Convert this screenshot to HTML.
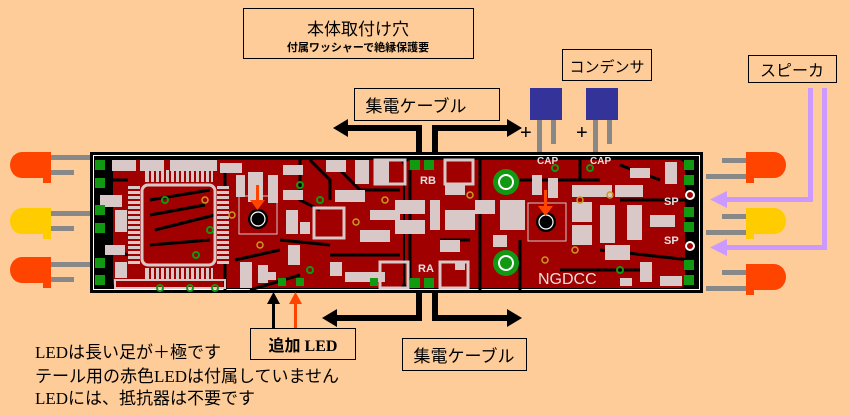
<!DOCTYPE html>
<html><head><meta charset="utf-8"><style>
html,body{margin:0;padding:0;background:#FECC99;}
svg{display:block}
text{font-family:"Liberation Sans","Noto Sans CJK JP",sans-serif;}
text.serif{font-family:"Liberation Serif","Noto Sans CJK JP",serif;}
</style></head><body>
<svg width="850" height="415" viewBox="0 0 850 415" xmlns="http://www.w3.org/2000/svg">
<rect width="850" height="415" fill="#FECC99"/>
<rect x="243.5" y="8.5" width="230" height="50" fill="none" stroke="#000"/>
<text x="358" y="35" font-size="17" text-anchor="middle">本体取付け穴</text>
<text x="358" y="51" font-size="11" font-weight="bold" text-anchor="middle">付属ワッシャーで絶縁保護要</text>
<rect x="562.5" y="49.5" width="89" height="31" fill="none" stroke="#000"/>
<text x="607" y="72" font-size="15" text-anchor="middle">コンデンサ</text>
<rect x="748.5" y="55.5" width="88" height="27" fill="none" stroke="#000"/>
<text x="792" y="76" font-size="16" text-anchor="middle">スピーカ</text>
<rect x="354.5" y="88.5" width="145" height="32" fill="none" stroke="#000"/>
<text x="416" y="112" font-size="17" text-anchor="middle">集電ケーブル</text>
<g fill="#000">
<rect x="416" y="125" width="6" height="28"/><rect x="432" y="125" width="6" height="28"/>
<rect x="345" y="125" width="77" height="6"/><rect x="432" y="125" width="78" height="6"/>
<polygon points="333,128 348,119 348,137"/><polygon points="522,128 507,119 507,137"/>
</g>
<rect x="530" y="88" width="32" height="32" fill="#333399"/>
<rect x="586" y="88" width="32" height="32" fill="#333399"/>
<g fill="#888"><rect x="537" y="120" width="5" height="32"/><rect x="551" y="120" width="5" height="24"/>
<rect x="593" y="120" width="5" height="32"/><rect x="607" y="120" width="5" height="24"/></g>
<text x="520" y="139" font-size="20">+</text><text x="576" y="139" font-size="20">+</text>
<g fill="#CC99FF">
<rect x="808" y="88" width="5" height="114"/><rect x="822" y="88" width="5" height="162"/>
<rect x="722" y="197" width="91" height="5"/><rect x="722" y="245" width="105" height="5"/>
<polygon points="710,199.5 727,191 727,208"/><polygon points="710,247.5 727,239 727,256"/>
</g>
<g>
<rect x="48" y="155" width="42" height="5" fill="#888"/><rect x="48" y="170" width="26" height="5" fill="#888"/>
<path d="M22,152 h28 v26 h-28 a12,13 0 0 1 0,-26z" fill="#FF4400"/><rect x="43" y="152" width="8" height="31" fill="#FF4400"/>
<rect x="48" y="211" width="42" height="5" fill="#888"/><rect x="48" y="226" width="26" height="5" fill="#888"/>
<path d="M22,208 h28 v26 h-28 a12,13 0 0 1 0,-26z" fill="#FFCC00"/><rect x="43" y="208" width="8" height="31" fill="#FFCC00"/>
<rect x="48" y="262" width="42" height="5" fill="#888"/><rect x="48" y="277" width="26" height="5" fill="#888"/>
<path d="M22,257 h28 v26 h-28 a12,13 0 0 1 0,-26z" fill="#FF4400"/><rect x="43" y="257" width="8" height="31" fill="#FF4400"/>
</g>
<g>
<rect x="722" y="158" width="26" height="5" fill="#888"/><rect x="706" y="174" width="42" height="5" fill="#888"/>
<path d="M748,152 h26 a12,13 0 0 1 0,26 h-26z" fill="#FF4400"/><rect x="746" y="152" width="8" height="31" fill="#FF4400"/>
<rect x="722" y="214" width="26" height="5" fill="#888"/><rect x="706" y="230" width="42" height="5" fill="#888"/>
<path d="M748,208 h26 a12,13 0 0 1 0,26 h-26z" fill="#FFCC00"/><rect x="746" y="208" width="8" height="31" fill="#FFCC00"/>
<rect x="722" y="270" width="26" height="5" fill="#888"/><rect x="706" y="286" width="42" height="5" fill="#888"/>
<path d="M748,264 h26 a12,13 0 0 1 0,26 h-26z" fill="#FF4400"/><rect x="746" y="264" width="8" height="31" fill="#FF4400"/>
</g>
<!-- board -->
<rect x="90" y="152" width="613" height="141" fill="#000"/>
<rect x="93.5" y="155.5" width="606" height="134" fill="none" stroke="#fff" stroke-width="1"/>
<g fill="#A00000">
<rect x="113" y="160" width="290" height="128" rx="6"/>
<rect x="405" y="160" width="280" height="128" rx="6"/>
</g>
<g stroke="#000" stroke-width="3" fill="none">
<path d="M150,200 L210,190 M150,215 L205,205 M155,230 L215,215 M150,245 L210,240"/>
<path d="M225,165 L225,290 M300,160 L300,200 L320,210 M340,170 L360,190 L400,190"/>
<path d="M410,170 L410,280 M480,160 L480,290 M520,180 L600,180 M620,200 L690,200 M600,250 L690,260"/>
<path d="M330,255 L400,255 M250,290 L300,275 M280,240 L330,245 M310,160 L330,180 L330,200"/>
<path d="M440,240 L470,240 M560,270 L640,270 M620,165 L660,180 M520,240 L520,290 M580,160 L580,180"/>
<path d="M113,180 L128,180 M113,250 L128,255 M235,260 L280,250"/>
</g>
<rect x="142" y="185" width="73" height="80" rx="6" fill="none" stroke="#D8C8C8" stroke-width="3"/>
<g fill="#D8C8C8">
<rect x="128" y="186" width="12" height="78" />
<rect x="217" y="186" width="12" height="78" />
<rect x="145" y="170" width="68" height="12"/>
<rect x="145" y="268" width="68" height="12"/>
</g>
<g stroke="#A00000" stroke-width="2">
<path d="M128,190 H140 M128,195 H140 M128,200 H140 M128,205 H140 M128,210 H140 M128,215 H140 M128,220 H140 M128,225 H140 M128,230 H140 M128,235 H140 M128,240 H140 M128,245 H140 M128,250 H140 M128,255 H140 M128,260 H140"/>
<path d="M217,190 H229 M217,195 H229 M217,200 H229 M217,205 H229 M217,210 H229 M217,215 H229 M217,220 H229 M217,225 H229 M217,230 H229 M217,235 H229 M217,240 H229 M217,245 H229 M217,250 H229 M217,255 H229 M217,260 H229"/>
<path d="M150,170 V182 M155,170 V182 M160,170 V182 M165,170 V182 M170,170 V182 M175,170 V182 M180,170 V182 M185,170 V182 M190,170 V182 M195,170 V182 M200,170 V182 M205,170 V182 M210,170 V182"/>
<path d="M150,268 V280 M155,268 V280 M160,268 V280 M165,268 V280 M170,268 V280 M175,268 V280 M180,268 V280 M185,268 V280 M190,268 V280 M195,268 V280 M200,268 V280 M205,268 V280 M210,268 V280"/>
</g>
<g fill="#D8C8C8">
<rect x="112" y="160" width="24" height="11"/><rect x="140" y="160" width="24" height="11"/><rect x="170" y="160" width="24" height="11"/><rect x="193" y="160" width="24" height="11"/>
<rect x="220" y="163" width="22" height="10"/><rect x="100" y="195" width="22" height="12"/><rect x="115" y="210" width="12" height="22"/>
<rect x="105" y="245" width="20" height="10"/><rect x="115" y="262" width="12" height="16"/><rect x="115" y="280" width="110" height="8" fill="none" stroke="#D8C8C8" stroke-width="2"/>
<rect x="236" y="175" width="9" height="22"/><rect x="248" y="172" width="15" height="30"/>
<rect x="240" y="262" width="12" height="26"/><rect x="258" y="265" width="10" height="18"/>
<rect x="268" y="175" width="10" height="28"/><rect x="283" y="165" width="20" height="10"/><rect x="283" y="190" width="20" height="10"/>
<rect x="286" y="210" width="12" height="24"/><rect x="288" y="245" width="12" height="20"/>
<rect x="326" y="160" width="20" height="12"/><rect x="355" y="160" width="14" height="24"/><rect x="375" y="160" width="14" height="24"/>
<rect x="335" y="190" width="30" height="12"/><rect x="370" y="210" width="30" height="10"/><rect x="360" y="230" width="30" height="12"/>
<rect x="330" y="262" width="12" height="14"/><rect x="345" y="272" width="40" height="10"/>
<rect x="395" y="200" width="30" height="14"/><rect x="395" y="220" width="30" height="14"/>
<rect x="445" y="185" width="20" height="10"/><rect x="445" y="210" width="30" height="20"/><rect x="440" y="240" width="20" height="12"/>
<rect x="475" y="200" width="20" height="14"/><rect x="500" y="200" width="25" height="30"/><rect x="493" y="235" width="14" height="12"/>
<rect x="532" y="175" width="10" height="20"/><rect x="548" y="178" width="10" height="20"/>
<rect x="572" y="185" width="40" height="12"/><rect x="615" y="185" width="28" height="12"/>
<rect x="572" y="202" width="20" height="20"/><rect x="572" y="225" width="20" height="20"/><rect x="600" y="205" width="15" height="38"/>
<rect x="627" y="205" width="15" height="35"/><rect x="650" y="215" width="25" height="12"/><rect x="605" y="245" width="25" height="15"/>
<rect x="640" y="262" width="12" height="20"/><rect x="660" y="276" width="22" height="10"/>
<rect x="665" y="162" width="12" height="22"/><rect x="630" y="168" width="20" height="10"/>
<rect x="300" y="222" width="10" height="12"/><rect x="260" y="272" width="16" height="8"/><rect x="430" y="200" width="10" height="30"/>
<rect x="455" y="262" width="10" height="8"/><rect x="620" y="278" width="12" height="8"/>
<rect x="380" y="262" width="28" height="26" fill="none" stroke="#D8C8C8" stroke-width="3"/>
<rect x="440" y="262" width="28" height="26" fill="none" stroke="#D8C8C8" stroke-width="3"/>
<rect x="375" y="160" width="30" height="24" fill="none" stroke="#D8C8C8" stroke-width="3"/>
<rect x="445" y="160" width="28" height="24" fill="none" stroke="#D8C8C8" stroke-width="3"/>
<rect x="314" y="208" width="30" height="30" fill="none" stroke="#D8C8C8" stroke-width="3"/>
<rect x="239" y="196" width="38" height="38" fill="none" stroke="#D8C8C8" stroke-width="1"/>
<rect x="528" y="203" width="38" height="38" fill="none" stroke="#D8C8C8" stroke-width="1"/>
</g>
<circle cx="258" cy="219" r="10" fill="#000"/><circle cx="258" cy="219" r="7" fill="none" stroke="#fff" stroke-width="1.2"/>
<circle cx="546" cy="222" r="10" fill="#000"/><circle cx="546" cy="222" r="7" fill="none" stroke="#fff" stroke-width="1.2"/>
<g fill="#FF4400"><rect x="256" y="185" width="3" height="18"/><polygon points="250,200 265,200 257.5,210"/>
<rect x="544" y="190" width="3" height="18"/><polygon points="538,206 553,206 545.5,216"/></g>
<circle cx="506" cy="182" r="13" fill="#119911"/><circle cx="506" cy="182" r="8" fill="#fff"/><circle cx="506" cy="182" r="6" fill="#119911"/>
<circle cx="506" cy="263" r="13" fill="#119911"/><circle cx="506" cy="263" r="8" fill="#fff"/><circle cx="506" cy="263" r="6" fill="#119911"/>
<g fill="#119911">
<rect x="95" y="160" width="10" height="10"/><rect x="95" y="178" width="10" height="10"/><rect x="95" y="205" width="10" height="10"/>
<rect x="95" y="223" width="10" height="10"/><rect x="95" y="258" width="10" height="10"/><rect x="95" y="275" width="10" height="10"/>
<rect x="684" y="160" width="10" height="10"/><rect x="684" y="175" width="10" height="10"/><rect x="684" y="207" width="10" height="10"/>
<rect x="684" y="222" width="10" height="10"/><rect x="684" y="260" width="10" height="10"/><rect x="684" y="275" width="10" height="10"/>
<rect x="410" y="160" width="10" height="10"/><rect x="424" y="160" width="10" height="10"/>
<rect x="410" y="278" width="10" height="10"/><rect x="424" y="278" width="10" height="10"/>
<rect x="370" y="278" width="8" height="8"/><rect x="296" y="278" width="8" height="8"/><rect x="278" y="278" width="8" height="8"/>
</g>
<g fill="none" stroke="#119911" stroke-width="2">
<circle cx="165" cy="200" r="3"/><circle cx="196" cy="255" r="3"/><circle cx="210" cy="230" r="3"/><circle cx="300" cy="185" r="3"/>
<circle cx="320" cy="200" r="3"/><circle cx="160" cy="288" r="3"/><circle cx="190" cy="288" r="3"/><circle cx="215" cy="288" r="3"/>
<circle cx="555" cy="168" r="3"/><circle cx="590" cy="168" r="3"/><circle cx="620" cy="270" r="3"/><circle cx="310" cy="270" r="3"/>
</g>
<g fill="none" stroke="#CC9922" stroke-width="1.5">
<circle cx="205" cy="200" r="3"/><circle cx="260" cy="245" r="3"/><circle cx="232" cy="215" r="3"/><circle cx="356" cy="222" r="3"/>
<circle cx="385" cy="200" r="3"/><circle cx="580" cy="200" r="3"/><circle cx="610" cy="195" r="3"/><circle cx="545" cy="260" r="3"/>
<circle cx="575" cy="250" r="3"/><circle cx="470" cy="195" r="3"/>
</g>
<circle cx="690" cy="195" r="4" fill="#A00000" stroke="#fff" stroke-width="2"/>
<circle cx="690" cy="246" r="4" fill="#A00000" stroke="#fff" stroke-width="2"/>
<g fill="#E8E0E0" font-weight="bold">
<text x="420" y="184" font-size="11">RB</text><text x="418" y="272" font-size="11">RA</text>
<text x="537" y="164" font-size="10">CAP</text><text x="590" y="164" font-size="10">CAP</text>
<text x="664" y="205" font-size="11">SP</text><text x="664" y="244" font-size="11">SP</text>
<text x="538" y="284" font-size="16" font-weight="normal">NGDCC</text>
</g>
<g fill="#000">
<rect x="416" y="293" width="6" height="28"/><rect x="432" y="293" width="6" height="28"/>
<rect x="335" y="315" width="87" height="6"/><rect x="432" y="315" width="80" height="6"/>
<polygon points="322,318 337,309 337,327"/><polygon points="522,318 507,309 507,327"/>
<rect x="272" y="295" width="3" height="33"/><polygon points="273.5,292 267,304 280,304"/>
</g>
<g fill="#FF4400"><rect x="294" y="295" width="3" height="33"/><polygon points="295.5,292 289,304 302,304"/></g>
<rect x="250.5" y="328.5" width="105" height="31" fill="none" stroke="#000"/>
<text class="serif" x="303" y="351" font-size="16" font-weight="bold" text-anchor="middle">追加 LED</text>
<rect x="402.5" y="338.5" width="124" height="32" fill="none" stroke="#000"/>
<text x="464" y="362" font-size="17" text-anchor="middle">集電ケーブル</text>
<g font-size="17">
<text class="serif" x="35" y="358">LEDは長い足が＋極です</text>
<text class="serif" x="35" y="382">テール用の赤色LEDは付属していません</text>
<text class="serif" x="35" y="404">LEDには、抵抗器は不要です</text>
</g>
</svg>
</body></html>
